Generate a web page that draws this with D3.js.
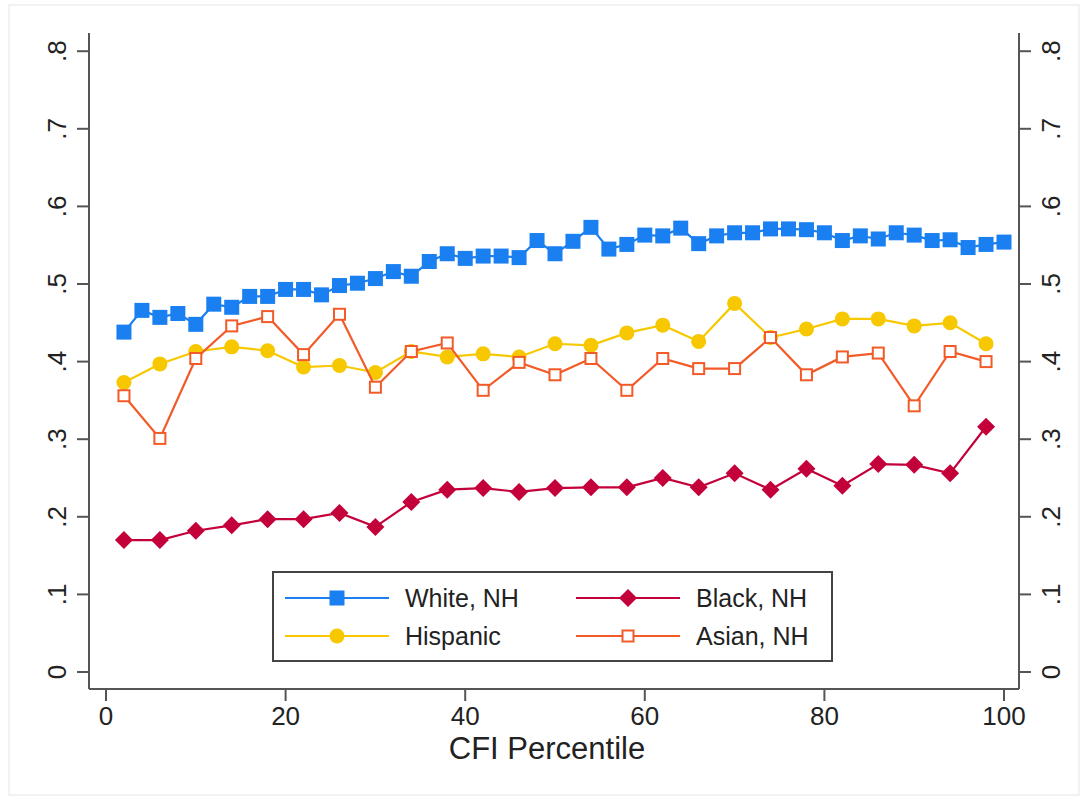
<!DOCTYPE html>
<html>
<head>
<meta charset="utf-8">
<script src="https://cdn.jsdelivr.net/npm/d3@7"></script>
<style>
  body { margin: 0; background: #fff; }
  text { font-family: "Liberation Sans", Arial, sans-serif; fill: #222; }
  .axis path, .axis line { stroke: #555; stroke-width: 2; }
</style>
</head>
<body>
<div id="vis"></div>
<script>
// percentiles
var whiteX = [2,4,6,8,10,12,14,16,18,20,22,24,26,28,30,32,34,36,38,40,42,44,46,48,50,
              52,54,56,58,60,62,64,66,68,70,72,74,76,78,80,82,84,86,88,90,92,94,96,98,100];
var otherX = [2,6,10,14,18,22,26,30,34,38,42,46,50,54,58,62,66,70,74,78,82,86,90,94,98];

// shares
var whiteY = [.438,.466,.457,.462,.448,.474,.470,.484,.484,.493,.493,.486,.498,.501,.507,.516,.510,.529,.539,.533,
              .536,.536,.534,.556,.539,.555,.573,.545,.551,.563,.562,.572,.552,.562,.566,.566,.571,.571,.570,.566,
              .556,.562,.558,.566,.563,.556,.557,.547,.551,.554];
var hispY  = [.373,.397,.413,.419,.414,.393,.395,.386,.413,.406,.410,.406,.423,.421,.437,.447,.426,.475,.431,.442,
              .455,.455,.446,.450,.423];
var blackY = [.170,.170,.182,.189,.197,.197,.205,.187,.219,.235,.237,.232,.237,.238,.238,.250,.238,.256,.235,.262,
              .240,.268,.267,.256,.316];
var asianY = [.356,.301,.404,.446,.458,.409,.461,.367,.413,.424,.363,.399,.383,.404,.363,.404,.391,.391,.431,.383,
              .406,.411,.343,.413,.400];

var xTicks = [0,20,40,60,80,100];
var yTicks = [0,.1,.2,.3,.4,.5,.6,.7,.8];

var W = 1084, H = 796;
var x = d3.scaleLinear().domain([0,100]).range([106,1004]);
var y = d3.scaleLinear().domain([0,.8]).range([672,51.2]);
var plotLeft = 89, plotRight = 1019, plotTop = 33, plotBottom = 689;

var svg = d3.select("#vis").append("svg").attr("width", W).attr("height", H);

// faint frame of the original image
svg.append("rect").attr("x", 9).attr("y", 5).attr("width", W - 14).attr("height", H - 6)
  .attr("fill", "none").attr("stroke", "#eee").attr("stroke-width", 1.5);

var fmt = function(d) { return d === 0 ? "0" : d3.format(".1f")(d).replace(/^0/, ""); };

// left axis
var gl = svg.append("g").attr("class", "axis").attr("transform", "translate(" + plotLeft + ",0)");
gl.append("line").attr("y1", plotTop).attr("y2", plotBottom);
yTicks.forEach(function(t) {
  gl.append("line").attr("x1", -12).attr("x2", 0).attr("y1", y(t)).attr("y2", y(t));
  gl.append("text").attr("transform", "translate(-32," + y(t) + ") rotate(-90)")
    .attr("text-anchor", "middle").attr("dy", "0.36em").style("font-size", "26px").text(fmt(t));
});

// right axis
var gr = svg.append("g").attr("class", "axis").attr("transform", "translate(" + plotRight + ",0)");
gr.append("line").attr("y1", plotTop).attr("y2", plotBottom);
yTicks.forEach(function(t) {
  gr.append("line").attr("x1", 0).attr("x2", 12).attr("y1", y(t)).attr("y2", y(t));
  gr.append("text").attr("transform", "translate(32," + y(t) + ") rotate(-90)")
    .attr("text-anchor", "middle").attr("dy", "0.36em").style("font-size", "26px").text(fmt(t));
});

// bottom axis
var gb = svg.append("g").attr("class", "axis").attr("transform", "translate(0," + plotBottom + ")");
gb.append("line").attr("x1", plotLeft).attr("x2", plotRight);
xTicks.forEach(function(t) {
  gb.append("line").attr("x1", x(t)).attr("x2", x(t)).attr("y1", 0).attr("y2", 12);
  gb.append("text").attr("x", x(t)).attr("y", 36).attr("text-anchor", "middle")
    .style("font-size", "26px").text(t);
});
svg.append("text").attr("x", 547).attr("y", 759).attr("text-anchor", "middle")
  .style("font-size", "31px").text("CFI Percentile");

var series = [
  {name: "White, NH", xs: whiteX, ys: whiteY, color: "#1a7ff0", sym: "square"},
  {name: "Black, NH", xs: otherX, ys: blackY, color: "#c4003a", sym: "diamond"},
  {name: "Hispanic",  xs: otherX, ys: hispY,  color: "#f7c800", sym: "circle"},
  {name: "Asian, NH", xs: otherX, ys: asianY, color: "#f25a28", sym: "hollow"}
];

function marker(g, s, cx, cy) {
  if (s.sym === "square") {
    g.append("rect").attr("x", cx - 7.5).attr("y", cy - 7.5).attr("width", 15).attr("height", 15).attr("fill", s.color);
  } else if (s.sym === "circle") {
    g.append("circle").attr("cx", cx).attr("cy", cy).attr("r", 7.5).attr("fill", s.color);
  } else if (s.sym === "diamond") {
    g.append("path").attr("d", "M" + cx + "," + (cy - 9) + "L" + (cx + 9) + "," + cy + "L" + cx + "," + (cy + 9) + "L" + (cx - 9) + "," + cy + "Z")
      .attr("fill", s.color);
  } else {
    g.append("rect").attr("x", cx - 5.5).attr("y", cy - 5.5).attr("width", 11).attr("height", 11)
      .attr("fill", "#fff").attr("stroke", s.color).attr("stroke-width", 2);
  }
}

var line = d3.line().x(function(d) { return x(d[0]); }).y(function(d) { return y(d[1]); });

// draw order: black, hispanic, asian, white on top
[series[1], series[2], series[3], series[0]].forEach(function(s) {
  var pts = s.xs.map(function(v, i) { return [v, s.ys[i]]; });
  var g = svg.append("g");
  g.append("path").datum(pts).attr("d", line).attr("fill", "none")
    .attr("stroke", s.color).attr("stroke-width", 2.2);
  pts.forEach(function(p) { marker(g, s, x(p[0]), y(p[1])); });
});

// legend
var lg = svg.append("g");
lg.append("rect").attr("x", 273).attr("y", 572).attr("width", 559).attr("height", 89)
  .attr("fill", "#fff").attr("stroke", "#444").attr("stroke-width", 2);
var legPos = [[285, 598], [576, 598], [285, 636], [576, 636]];
series.forEach(function(s, i) {
  var lx = legPos[i][0], ly = legPos[i][1];
  lg.append("line").attr("x1", lx).attr("x2", lx + 104).attr("y1", ly).attr("y2", ly)
    .attr("stroke", s.color).attr("stroke-width", 2.2);
  marker(lg, s, lx + 52, ly);
  lg.append("text").attr("x", lx + 120).attr("y", ly).attr("dy", "0.36em")
    .style("font-size", "25px").text(s.name);
});
</script>
</body>
</html>
